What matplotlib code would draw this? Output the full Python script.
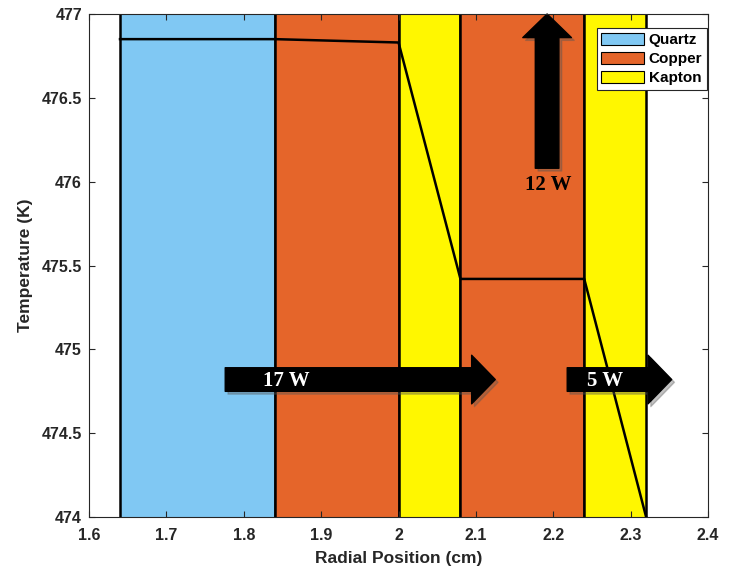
import matplotlib
matplotlib.use('Agg')
from matplotlib import pyplot as plt
import matplotlib.transforms as mtrans
from matplotlib.patches import Rectangle, Patch, FancyArrowPatch

# layer data
layer_names = ['Quartz', 'Copper', 'Kapton', 'Copper', 'Kapton']
layer_edges = [1.64, 1.84, 2.00, 2.08, 2.24, 2.32]
colors = {'Quartz': '#80c8f3', 'Copper': '#e5652a', 'Kapton': '#fff700'}

# temperature profile
r_pos = [1.64, 1.84, 2.00, 2.08, 2.24, 2.32]
temps = [476.85, 476.85, 476.83, 475.42, 475.42, 474.0]

# heat flow arrows: (tail, tip, label, label position)
arrows = [((1.776, 474.82), (2.125, 474.82), '17 W', (1.855, 474.81)),
          ((2.218, 474.82), (2.353, 474.82), '5 W', (2.267, 474.81)),
          ((2.192, 476.08), (2.192, 477.0), '12 W', (2.193, 475.98))]

plt.rcParams['font.family'] = ['Liberation Sans', 'DejaVu Sans']

fig = plt.figure(figsize=(7.36, 5.71), dpi=100)
ax = fig.add_axes([0.121, 0.0945, 0.841, 0.881])

for i, name in enumerate(layer_names):
    ax.add_patch(Rectangle((layer_edges[i], 473), layer_edges[i + 1] - layer_edges[i], 5,
                           facecolor=colors[name], edgecolor='black', lw=1.8, zorder=1))

ax.plot(r_pos, temps, c='black', lw=1.8, zorder=2)

style = 'simple,head_length=17,head_width=35,tail_width=17'
for tail, tip, label, txt in arrows:
    vertical = tail[0] == tip[0]
    shadow = FancyArrowPatch(tail, tip, arrowstyle=style, mutation_scale=1, shrinkA=0, shrinkB=0,
                             color='#555555', alpha=0.35, zorder=3, clip_on=False)
    shadow.set_transform(ax.transData + mtrans.ScaledTranslation(2 / 72, -2 / 72, fig.dpi_scale_trans))
    ax.add_patch(shadow)
    arr = FancyArrowPatch(tail, tip, arrowstyle=style, mutation_scale=1, shrinkA=0, shrinkB=0,
                          color='black', zorder=4, clip_on=False)
    ax.add_patch(arr)
    ax.text(txt[0], txt[1], label, color='black' if vertical else 'white', fontsize=15,
            fontweight='bold', family='Liberation Serif', ha='center', va='center', zorder=5)

ax.set_xlim(1.6, 2.4)
ax.set_ylim(474, 477)
ax.set_xticks([1.6, 1.7, 1.8, 1.9, 2.0, 2.1, 2.2, 2.3, 2.4])
ax.set_xticklabels(['1.6', '1.7', '1.8', '1.9', '2', '2.1', '2.2', '2.3', '2.4'])
ax.set_yticks([474, 474.5, 475, 475.5, 476, 476.5, 477])
ax.set_yticklabels(['474', '474.5', '475', '475.5', '476', '476.5', '477'])
ax.tick_params(axis='both', direction='in', top=True, right=True, length=4, width=0.8,
               colors='#262626', labelsize=11.5)
ax.tick_params(axis='x', pad=8)
ax.tick_params(axis='y', pad=5)
for lab in ax.get_xticklabels() + ax.get_yticklabels():
    lab.set_fontweight('bold')
for s in ax.spines.values():
    s.set_color('#262626')
    s.set_linewidth(0.8)
    s.set_zorder(6)

ax.set_xlabel('Radial Position (cm)', fontsize=12.5, fontweight='bold', color='#262626', labelpad=6)
ax.set_ylabel('Temperature (K)', fontsize=12.5, fontweight='bold', color='#262626', labelpad=6)

handles = [Patch(facecolor=colors[n], edgecolor='black', lw=0.8) for n in ['Quartz', 'Copper', 'Kapton']]
leg = ax.legend(handles, ['Quartz', 'Copper', 'Kapton'], loc='upper right', bbox_to_anchor=(0.998, 0.972),
                prop={'weight': 'bold', 'size': 11}, frameon=True, fancybox=False,
                edgecolor='#262626', framealpha=1, borderpad=0.3, labelspacing=0.3,
                handlelength=2.8, handleheight=0.85, handletextpad=0.3, borderaxespad=0)
leg.get_frame().set_linewidth(0.8)
leg.set_zorder(7)

plt.savefig('out.png', dpi=100)
